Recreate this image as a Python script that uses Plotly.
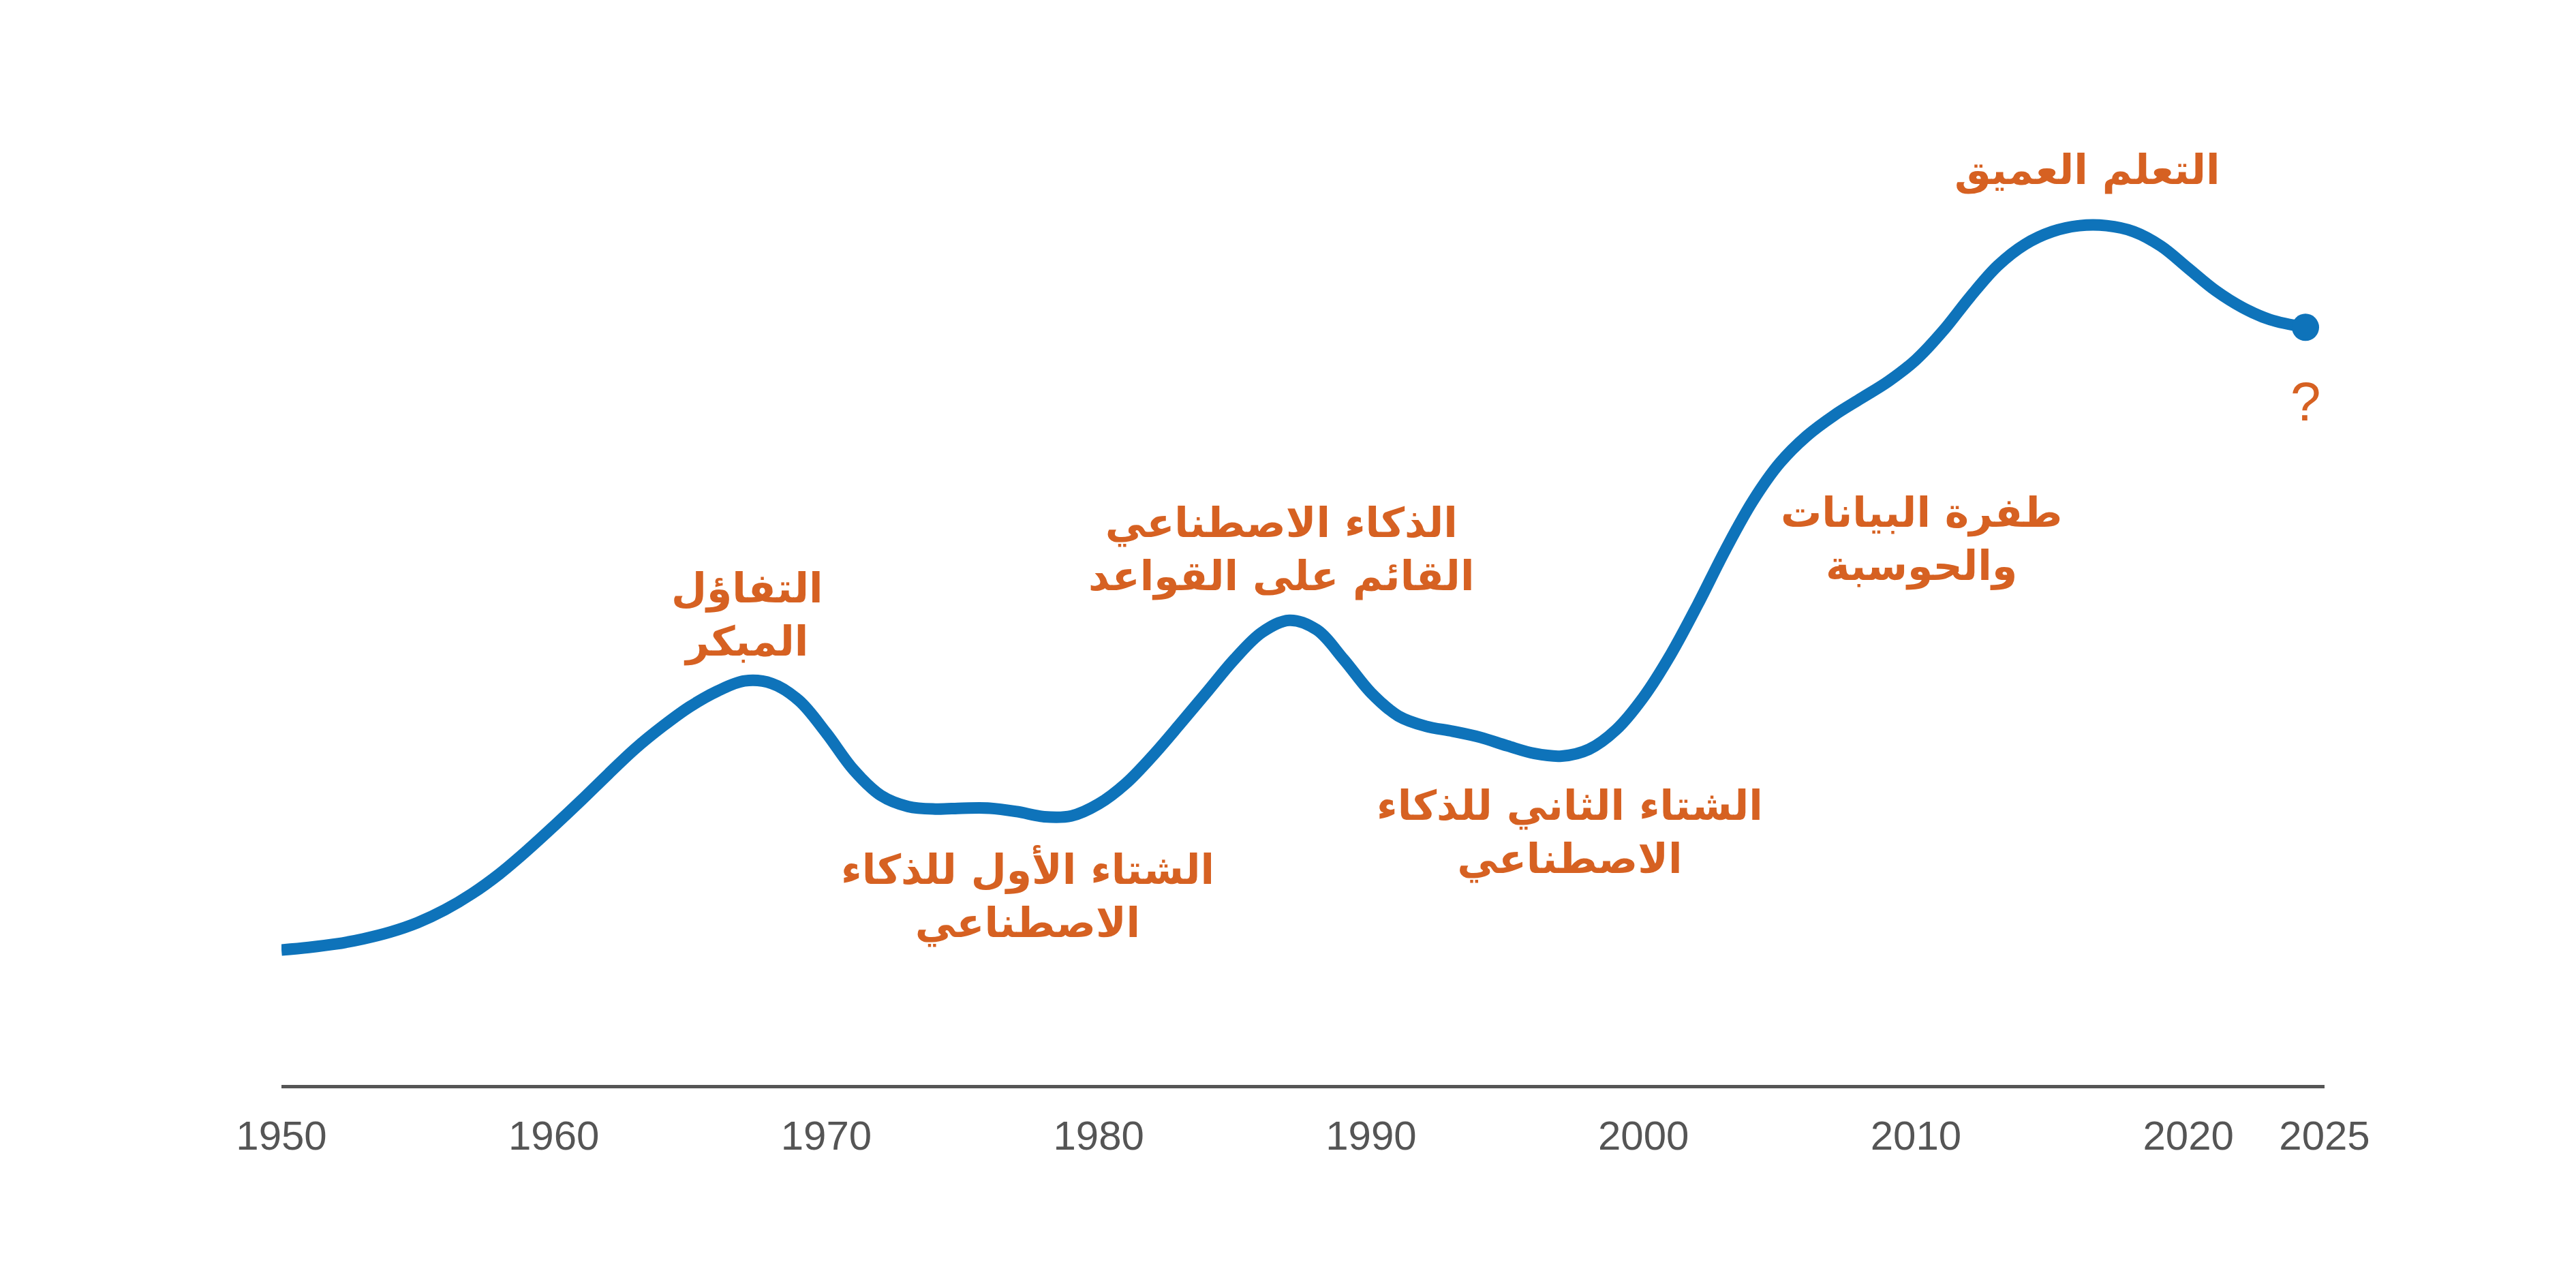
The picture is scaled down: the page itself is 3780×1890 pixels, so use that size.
import plotly.graph_objects as go

# ---- data (one reading per year) ----
years = [1950, 1951, 1952, 1953, 1954, 1955, 1956, 1957, 1958, 1959,
         1960, 1961, 1962, 1963, 1964, 1965, 1966, 1967, 1968, 1969,
         1970, 1971, 1972, 1973, 1974, 1975, 1976, 1977, 1978, 1979,
         1980, 1981, 1982, 1983, 1984, 1985, 1986, 1987, 1988, 1989,
         1990, 1991, 1992, 1993, 1994, 1995, 1996, 1997, 1998, 1999,
         2000, 2001, 2002, 2003, 2004, 2005, 2006, 2007, 2008, 2009,
         2010, 2011, 2012, 2013, 2014, 2015, 2016, 2017, 2018, 2019,
         2020, 2021, 2022, 2023, 2024.3]
hype = [15.8, 16.1, 16.5, 17.1, 17.9, 19.0, 20.5, 22.4, 24.7, 27.4,
        30.3, 33.3, 36.4, 39.4, 42.0, 44.3, 46.1, 47.3, 47.0, 45.0,
        41.2, 36.9, 33.9, 32.6, 32.3, 32.4, 32.4, 32.0, 31.4, 31.5,
        32.9, 35.3, 38.6, 42.3, 46.1, 49.9, 53.0, 54.4, 53.3, 49.8,
        45.9, 43.2, 42.0, 41.4, 40.7, 39.7, 38.8, 38.5, 39.3, 41.6,
        45.4, 50.4, 56.3, 62.6, 68.3, 72.8, 76.0, 78.4, 80.4, 82.4,
        84.9, 88.3, 92.3, 95.9, 98.4, 99.9, 100.6, 100.6, 99.9, 98.2,
        95.6, 93.0, 91.0, 89.6, 88.7]

tick_vals = [1950, 1960, 1970, 1980, 1990, 2000, 2010, 2020, 2025]
tick_text = ["1950", "1960", "1970", "1980", "1990", "2000", "2010", "2020", "2025"]

labels = ["التفاؤل<br>المبكر",
          "الشتاء الأول للذكاء<br>الاصطناعي",
          "الذكاء الاصطناعي<br>القائم على القواعد",
          "الشتاء الثاني للذكاء<br>الاصطناعي",
          "طفرة البيانات<br>والحوسبة",
          "التعلم العميق",
          "?"]
label_years = [1967.1, 1977.4, 1986.7, 1997.3, 2010.2, 2016.3, 2024.3]
label_vals = [55.0, 22.1, 62.7, 29.6, 63.9, 107.1, 80.0]

LINE = "#0E73BA"
ORANGE = "#D66122"

fig = go.Figure()
fig.add_trace(go.Scatter(
    x=years, y=hype, mode="lines",
    line=dict(color=LINE, width=17, shape="spline", smoothing=1.0, simplify=False),
    hoverinfo="skip", showlegend=False,
))
fig.add_trace(go.Scatter(
    x=[years[-1]], y=[hype[-1]], mode="markers",
    marker=dict(color=LINE, size=40),
    hoverinfo="skip", showlegend=False,
))

for txt, lx, ly in zip(labels, label_years, label_vals):
    is_q = txt == "?"
    fig.add_annotation(
        x=lx, y=ly, xref="x", yref="y", text=txt, showarrow=False,
        xanchor="center", yanchor="middle", align="center",
        font=dict(family="DejaVu Sans" if not is_q else "Liberation Sans",
                  size=60 if not is_q else 80, color=ORANGE,
                  weight="bold" if not is_q else "normal"),
    )

fig.update_layout(
    width=3780, height=1890,
    paper_bgcolor="white", plot_bgcolor="white",
    margin=dict(l=405, r=377, t=80, b=306),
    xaxis=dict(range=[1950, 2025], tickvals=tick_vals, ticktext=tick_text,
               showgrid=False, zeroline=False, showline=True,
               linecolor="#555555", linewidth=5, ticks="",
               ticklabelstandoff=18,
               tickfont=dict(family="Liberation Sans", size=60, color="#555555")),
    yaxis=dict(range=[0, 120], visible=False, showgrid=False, zeroline=False),
)

fig.write_html("out.html")
